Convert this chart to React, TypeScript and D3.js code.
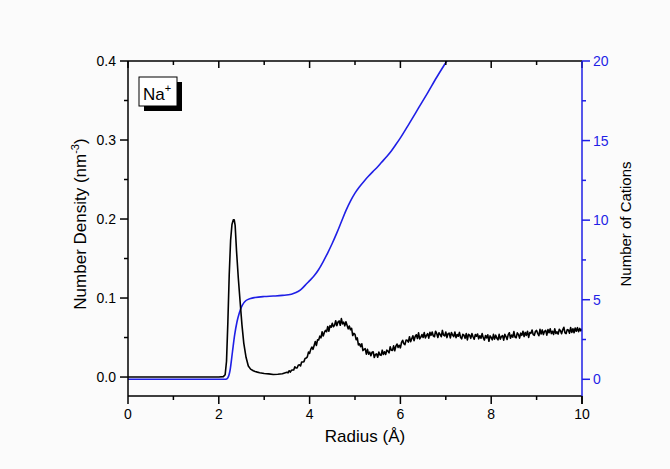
import React from "react";
import * as d3 from "d3";

// ---- Data ----
// Sharp first-shell peak region (radius in Å, density in nm^-3)
const peakRadius: number[] = [
  0, 1, 2.0, 2.1, 2.14, 2.17, 2.2, 2.23, 2.26, 2.29, 2.32, 2.34, 2.36, 2.39, 2.43, 2.47, 2.51, 2.55, 2.6, 2.65, 2.7, 2.76,
  2.8, 2.85, 2.9, 3.0, 3.1, 3.2, 3.3, 3.4,
];
const peakDensity: number[] = [
  0, 0, 0, 0.0005, 0.003, 0.02, 0.07, 0.13, 0.173, 0.193, 0.199, 0.199, 0.192, 0.16, 0.125, 0.095, 0.066, 0.043, 0.025, 0.014, 0.01, 0.008,
  0.007, 0.0062, 0.0055, 0.0045, 0.004, 0.0032, 0.0036, 0.0042,
];
// Noisy tail, sampled every 0.025 Å from 3.5 Å to 10 Å; values in 10^-3 nm^-3
const tailStart = 3.5;
const tailStep = 0.025;
const tailDensityMilli: number[] = [
  6, 5.25, 8, 6.25, 8.5, 9, 9, 13,
  11.5, 11.5, 15, 15.5, 14, 19, 19, 19.5,
  23.5, 24, 25.5, 31.5, 30, 35, 38, 35,
  40, 45, 40, 47, 47, 51.75, 49.5, 57.25,
  52, 56.5, 59, 57.5, 64, 58, 65, 63,
  68, 63.75, 65.5, 71.25, 65, 69.5, 71, 65.5,
  74, 67.25, 69.5, 64.75, 70, 65.5, 61, 64.5,
  60, 61.75, 52.5, 55.25, 54, 47.25, 49.5, 40.75,
  42, 38.5, 42, 33.5, 35, 36, 29, 35,
  29, 31.5, 27, 31.5, 32, 24.75, 28.5, 29.25,
  25, 31.5, 28, 27.5, 34, 28.5, 32, 28.5,
  34, 32.75, 30.5, 38.25, 34, 33.75, 39.5, 33.25,
  39, 41.75, 37.5, 40.25, 37, 43.75, 46.5, 42.25,
  41, 46.75, 46.5, 44.25, 51, 44.75, 48.5, 52.25,
  46, 51.25, 53.5, 48.75, 56, 48.25, 50.5, 53.75,
  50, 56.25, 49.5, 52.75, 55, 49.25, 56.5, 52.75,
  57, 52, 51, 58, 55, 50, 56, 54,
  51, 59, 53, 52, 57, 49.875, 54.75, 55.625,
  49.5, 56.375, 53.25, 51.125, 57, 49.875, 53.75, 51.625,
  56.5, 50.375, 48.25, 54.125, 53, 49, 55, 47,
  54, 53, 49, 55, 51, 47.875, 53.75, 51.625,
  54.5, 48.375, 52.25, 49.125, 55, 49.875, 46.75, 52.625,
  49.5, 53.375, 45.25, 52.125, 50, 47, 54, 48,
  53, 49, 47, 54, 48, 51.25, 52.5, 46.75,
  54, 51.25, 47.5, 53.75, 56, 49.125, 53.25, 50.375,
  57.5, 50.625, 49.75, 55.875, 54, 49.25, 55.5, 52.75,
  58, 51.25, 56.5, 52.75, 58, 50.125, 56.25, 55.375,
  59.5, 53.625, 52.75, 57.875, 59, 55.125, 52.25, 60.375,
  54.5, 59.625, 53.75, 57.875, 59, 53, 60, 56,
  61, 55, 58, 54, 61, 55.125, 57.25, 54.375,
  60.5, 58.625, 54.75, 59.875, 63, 56, 55, 60,
  59.5, 55.5, 62.5, 56.5, 61, 56, 62, 58,
  62.5, 57.5, 61.5, 58.5, 61,
];

// Running coordination number (right axis)
const cationRadius: number[] = [
  0, 1, 2.15, 2.2, 2.25, 2.3, 2.35, 2.4, 2.45, 2.5, 2.55, 2.6, 2.7, 2.8, 3.0, 3.2, 3.4, 3.6, 3.7, 3.8, 3.9,
  4.0, 4.1, 4.2, 4.3, 4.4, 4.5, 4.6, 4.7, 4.8, 4.9, 5.0, 5.1, 5.2, 5.3, 5.4, 5.5, 5.58, 5.7, 5.8, 5.9,
  6.0, 6.2, 6.4, 6.6, 6.8, 7.0, 7.1,
];
const cationCount: number[] = [
  0, 0, 0, 0.1, 0.6, 1.7, 2.8, 3.6, 4.15, 4.55, 4.8, 4.95, 5.08, 5.14, 5.2, 5.23, 5.27, 5.35, 5.45, 5.62, 5.9,
  6.2, 6.5, 6.9, 7.4, 7.95, 8.55, 9.2, 9.9, 10.6, 11.2, 11.7, 12.1, 12.45, 12.77, 13.07, 13.36, 13.62, 14.0, 14.35, 14.75,
  15.17, 16.1, 17.05, 18.0, 18.98, 19.9, 20.35,
];

const xTicks: number[] = [0, 2, 4, 6, 8, 10];
const xMinorTicks: number[] = [1, 3, 5, 7, 9];
const yLeftTicks: number[] = [0, 0.1, 0.2, 0.3, 0.4];
const yLeftMinor: number[] = [0.05, 0.15, 0.25, 0.35];
const yRightTicks: number[] = [0, 5, 10, 15, 20];
const yRightMinor: number[] = [2.5, 7.5, 12.5, 17.5];

const W = 670;
const H = 469;
const M = { left: 128, right: 582, top: 61, bottom: 396 };
const BLUE = "#1f1fe6";
const FONT = "'Liberation Sans', Arial, sans-serif";

export default function App() {
  const x = d3.scaleLinear().domain([0, 10]).range([M.left, M.right]);
  const yL = d3.scaleLinear().domain([-0.024, 0.4]).range([M.bottom, M.top]);
  const yR = d3.scaleLinear().domain([-1.05, 20]).range([M.bottom, M.top]);

  const densityPts: [number, number][] = [
    ...peakRadius.map((r, i) => [r, peakDensity[i]] as [number, number]),
    ...tailDensityMilli.map((v, i) => [tailStart + i * tailStep, v / 1000] as [number, number]),
  ];
  const cationPts = cationRadius.map((r, i) => [r, cationCount[i]] as [number, number]);

  const blackLine = d3
    .line<[number, number]>()
    .x((d) => x(d[0]))
    .y((d) => yL(d[1]))
    .curve(d3.curveLinear);
  const blueLine = d3
    .line<[number, number]>()
    .x((d) => x(d[0]))
    .y((d) => yR(d[1]))
    .curve(d3.curveMonotoneX);

  const fmtL = d3.format(".1f");

  return (
    <svg
      width={W}
      height={H}
      style={{ position: "absolute", left: 0, top: 0, background: "#fbfbfb" }}
      fontFamily={FONT}
    >
      <defs>
        <clipPath id="plotClip">
          <rect x={M.left} y={M.top} width={M.right - M.left} height={M.bottom - M.top} />
        </clipPath>
      </defs>

      {/* data */}
      <g clipPath="url(#plotClip)">
        <path d={blueLine(cationPts) || ""} fill="none" stroke={BLUE} strokeWidth={1.6} />
        <path d={blackLine(densityPts) || ""} fill="none" stroke="#000" strokeWidth={1.6} strokeLinejoin="round" />
      </g>

      {/* frame: top */}
      <line x1={M.left} x2={M.right} y1={M.top} y2={M.top} stroke="#000" strokeWidth={1.5} />
      {xTicks.map((t) => (
        <line key={"tt" + t} x1={x(t)} x2={x(t)} y1={M.top} y2={M.top + 7} stroke="#000" strokeWidth={1.5} />
      ))}
      {xMinorTicks.map((t) => (
        <line key={"tm" + t} x1={x(t)} x2={x(t)} y1={M.top} y2={M.top + 4} stroke="#000" strokeWidth={1.5} />
      ))}

      {/* bottom axis */}
      <line x1={M.left} x2={M.right} y1={M.bottom} y2={M.bottom} stroke="#000" strokeWidth={1.5} />
      {xTicks.map((t) => (
        <g key={"bx" + t}>
          <line x1={x(t)} x2={x(t)} y1={M.bottom} y2={M.bottom + 8} stroke="#000" strokeWidth={1.5} />
          <text x={x(t)} y={M.bottom + 23} textAnchor="middle" fontSize={14} fill="#000">
            {t}
          </text>
        </g>
      ))}
      {xMinorTicks.map((t) => (
        <line key={"bm" + t} x1={x(t)} x2={x(t)} y1={M.bottom} y2={M.bottom + 4} stroke="#000" strokeWidth={1.5} />
      ))}
      <text x={365} y={442} textAnchor="middle" fontSize={17} fill="#000">
        Radius (Å)
      </text>

      {/* left axis */}
      <line x1={M.left} x2={M.left} y1={M.top} y2={M.bottom} stroke="#000" strokeWidth={1.5} />
      {yLeftTicks.map((t) => (
        <g key={"ly" + t}>
          <line x1={M.left - 8} x2={M.left} y1={yL(t)} y2={yL(t)} stroke="#000" strokeWidth={1.5} />
          <text x={M.left - 12} y={yL(t) + 5} textAnchor="end" fontSize={14} fill="#000">
            {fmtL(t)}
          </text>
        </g>
      ))}
      {yLeftMinor.map((t) => (
        <line key={"lm" + t} x1={M.left - 4} x2={M.left} y1={yL(t)} y2={yL(t)} stroke="#000" strokeWidth={1.5} />
      ))}
      <text
        transform={`translate(86, 224) rotate(-90)`}
        textAnchor="middle"
        fontSize={17}
        fill="#000"
      >
        Number Density (nm
        <tspan fontSize={11} dy={-7}>-3</tspan>
        <tspan dy={7}>)</tspan>
      </text>

      {/* right axis */}
      <line x1={M.right} x2={M.right} y1={M.top} y2={M.bottom} stroke={BLUE} strokeWidth={1.5} />
      <line x1={M.right} x2={M.right} y1={M.bottom} y2={M.bottom + 8} stroke="#000" strokeWidth={1.5} />
      {yRightTicks.map((t) => (
        <g key={"ry" + t}>
          <line x1={M.right} x2={M.right + 8} y1={yR(t)} y2={yR(t)} stroke={BLUE} strokeWidth={1.5} />
          <text x={M.right + 11} y={yR(t) + 5} textAnchor="start" fontSize={14} fill={BLUE}>
            {t}
          </text>
        </g>
      ))}
      {yRightMinor.map((t) => (
        <line key={"rm" + t} x1={M.right} x2={M.right + 4} y1={yR(t)} y2={yR(t)} stroke={BLUE} strokeWidth={1.5} />
      ))}
      <text
        transform={`translate(631, 224) rotate(-90)`}
        textAnchor="middle"
        fontSize={15}
        fill="#000"
      >
        Number of Cations
      </text>

      {/* Na+ label box */}
      <rect x={144} y={82} width={38} height={29} fill="#000" />
      <rect x={139} y={77} width={38} height={29} fill="#fff" stroke="#000" strokeWidth={1} />
      <text x={143} y={100} fontSize={17} fill="#000">
        Na
        <tspan fontSize={11} dy={-8}>+</tspan>
      </text>
    </svg>
  );
}
